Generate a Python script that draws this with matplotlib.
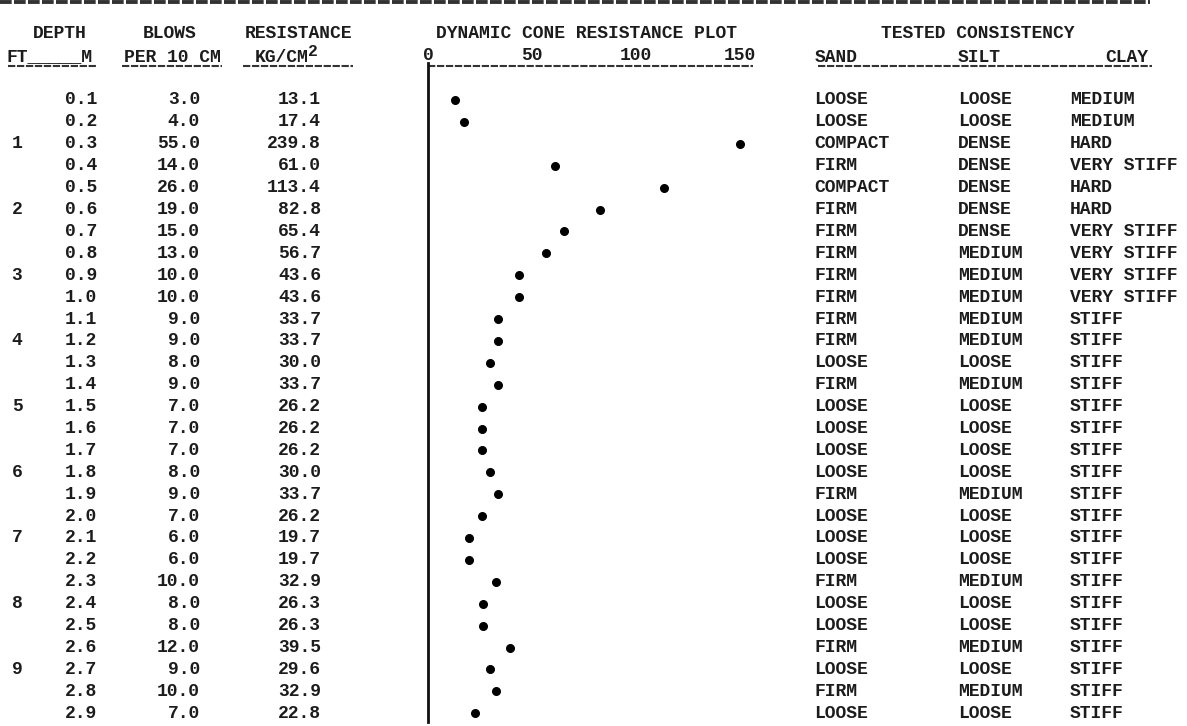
import numpy as np
import matplotlib
matplotlib.use("Agg")
import matplotlib.pyplot as plt

# ---------------- data ----------------
depth_m = ["0.1", "0.2", "0.3", "0.4", "0.5", "0.6", "0.7", "0.8", "0.9", "1.0",
           "1.1", "1.2", "1.3", "1.4", "1.5", "1.6", "1.7", "1.8", "1.9", "2.0",
           "2.1", "2.2", "2.3", "2.4", "2.5", "2.6", "2.7", "2.8", "2.9"]
depth_ft = {2: "1", 5: "2", 8: "3", 11: "4", 14: "5", 17: "6", 20: "7", 23: "8", 26: "9"}
blows = [3.0, 4.0, 55.0, 14.0, 26.0, 19.0, 15.0, 13.0, 10.0, 10.0,
         9.0, 9.0, 8.0, 9.0, 7.0, 7.0, 7.0, 8.0, 9.0, 7.0,
         6.0, 6.0, 10.0, 8.0, 8.0, 12.0, 9.0, 10.0, 7.0]
resistance = [13.1, 17.4, 239.8, 61.0, 113.4, 82.8, 65.4, 56.7, 43.6, 43.6,
              33.7, 33.7, 30.0, 33.7, 26.2, 26.2, 26.2, 30.0, 33.7, 26.2,
              19.7, 19.7, 32.9, 26.3, 26.3, 39.5, 29.6, 32.9, 22.8]
sand = ["LOOSE", "LOOSE", "COMPACT", "FIRM", "COMPACT", "FIRM", "FIRM", "FIRM", "FIRM", "FIRM",
        "FIRM", "FIRM", "LOOSE", "FIRM", "LOOSE", "LOOSE", "LOOSE", "LOOSE", "FIRM", "LOOSE",
        "LOOSE", "LOOSE", "FIRM", "LOOSE", "LOOSE", "FIRM", "LOOSE", "FIRM", "LOOSE"]
silt = ["LOOSE", "LOOSE", "DENSE", "DENSE", "DENSE", "DENSE", "DENSE", "MEDIUM", "MEDIUM", "MEDIUM",
        "MEDIUM", "MEDIUM", "LOOSE", "MEDIUM", "LOOSE", "LOOSE", "LOOSE", "LOOSE", "MEDIUM", "LOOSE",
        "LOOSE", "LOOSE", "MEDIUM", "LOOSE", "LOOSE", "MEDIUM", "LOOSE", "MEDIUM", "LOOSE"]
clay = ["MEDIUM", "MEDIUM", "HARD", "VERY STIFF", "HARD", "HARD", "VERY STIFF", "VERY STIFF",
        "VERY STIFF", "VERY STIFF", "STIFF", "STIFF", "STIFF", "STIFF", "STIFF", "STIFF", "STIFF",
        "STIFF", "STIFF", "STIFF", "STIFF", "STIFF", "STIFF", "STIFF", "STIFF", "STIFF", "STIFF",
        "STIFF", "STIFF"]
plot_ticks = [0, 50, 100, 150]
plot_max = 150

# ---------------- layout ----------------
W, H = 1187, 726
FONT = "Liberation Mono"
FS = 13
TXT = "#1c1c1c"
ROW0, ROWSTEP = 100.0, 21.9

def row_y(i):
    return ROW0 + ROWSTEP * i

fig = plt.figure(figsize=(W / 100, H / 100), dpi=100)
fig.patch.set_facecolor("white")
bg = fig.add_axes([0, 0, 1, 1])
bg.set_xlim(0, W)
bg.set_ylim(H, 0)
bg.axis("off")

kw = dict(family=FONT, fontsize=FS, fontweight="bold", color=TXT, va="center")

# top "=====" rule
bg.plot([0, 1150], [2, 2], color="#333333", lw=2.8, ls=(0, (3.0, 0.6)), solid_capstyle="butt")

# headers
bg.text(60, 33, "DEPTH", ha="center", **kw)
bg.text(170, 33, "BLOWS", ha="center", **kw)
bg.text(298, 33, "RESISTANCE", ha="center", **kw)
bg.text(7, 57, "FT_____M", ha="left", **kw)
bg.text(172, 57, "PER 10 CM", ha="center", **kw)
bg.text(308, 57, "KG/CM", ha="right", **kw)
bg.text(308, 51, "2", ha="left", **dict(kw, fontsize=FS * 0.9))
bg.text(587, 33, "DYNAMIC CONE RESISTANCE PLOT", ha="center", **kw)
bg.text(978, 33, "TESTED CONSISTENCY", ha="center", **kw)
bg.text(836, 57, "SAND", ha="center", **kw)
bg.text(979, 57, "SILT", ha="center", **kw)
bg.text(1127, 57, "CLAY", ha="center", **kw)

dash = dict(color="#333333", lw=1.5, ls=(0, (3.5, 0.8)), solid_capstyle="butt")
for x0, x1 in [(8, 97), (122, 222), (243, 353), (428, 753), (818, 1152)]:
    bg.plot([x0, x1], [66, 66], **dash)

# table rows
for i in range(len(depth_m)):
    y = row_y(i)
    if i in depth_ft:
        bg.text(17, y, depth_ft[i], ha="center", **kw)
    bg.text(97, y, depth_m[i], ha="right", **kw)
    bg.text(200, y, f"{blows[i]:.1f}", ha="right", **kw)
    bg.text(321, y, f"{resistance[i]:.1f}", ha="right", **kw)
    bg.text(814, y, sand[i], ha="left", **kw)
    bg.text(958, y, silt[i], ha="left", **kw)
    bg.text(1070, y, clay[i], ha="left", **kw)

# ---------------- plot ----------------
x0px, x1px = 428, 740
top_px, bot_px = 63, 722
ax = fig.add_axes([x0px / W, (H - bot_px) / H, (x1px - x0px) / W, (bot_px - top_px) / H])
ax.set_facecolor("none")
ax.set_xlim(0, plot_max)
ax.set_ylim((bot_px - ROW0) / ROWSTEP, (top_px - ROW0) / ROWSTEP)
rows = np.arange(len(resistance))
ax.scatter(np.minimum(resistance, plot_max), rows, s=30, color="black", zorder=3, clip_on=False)
for s in ["top", "right", "bottom"]:
    ax.spines[s].set_visible(False)
ax.spines["left"].set_linewidth(2.0)
ax.spines["left"].set_color("#111111")
ax.xaxis.tick_top()
ax.set_xticks(plot_ticks)
ax.set_xticklabels([str(t) for t in plot_ticks], family=FONT, fontsize=FS, fontweight="bold", color=TXT)
ax.tick_params(axis="x", length=0, pad=-1)
ax.set_yticks([])

fig.savefig("out.png", dpi=100, facecolor="white")
